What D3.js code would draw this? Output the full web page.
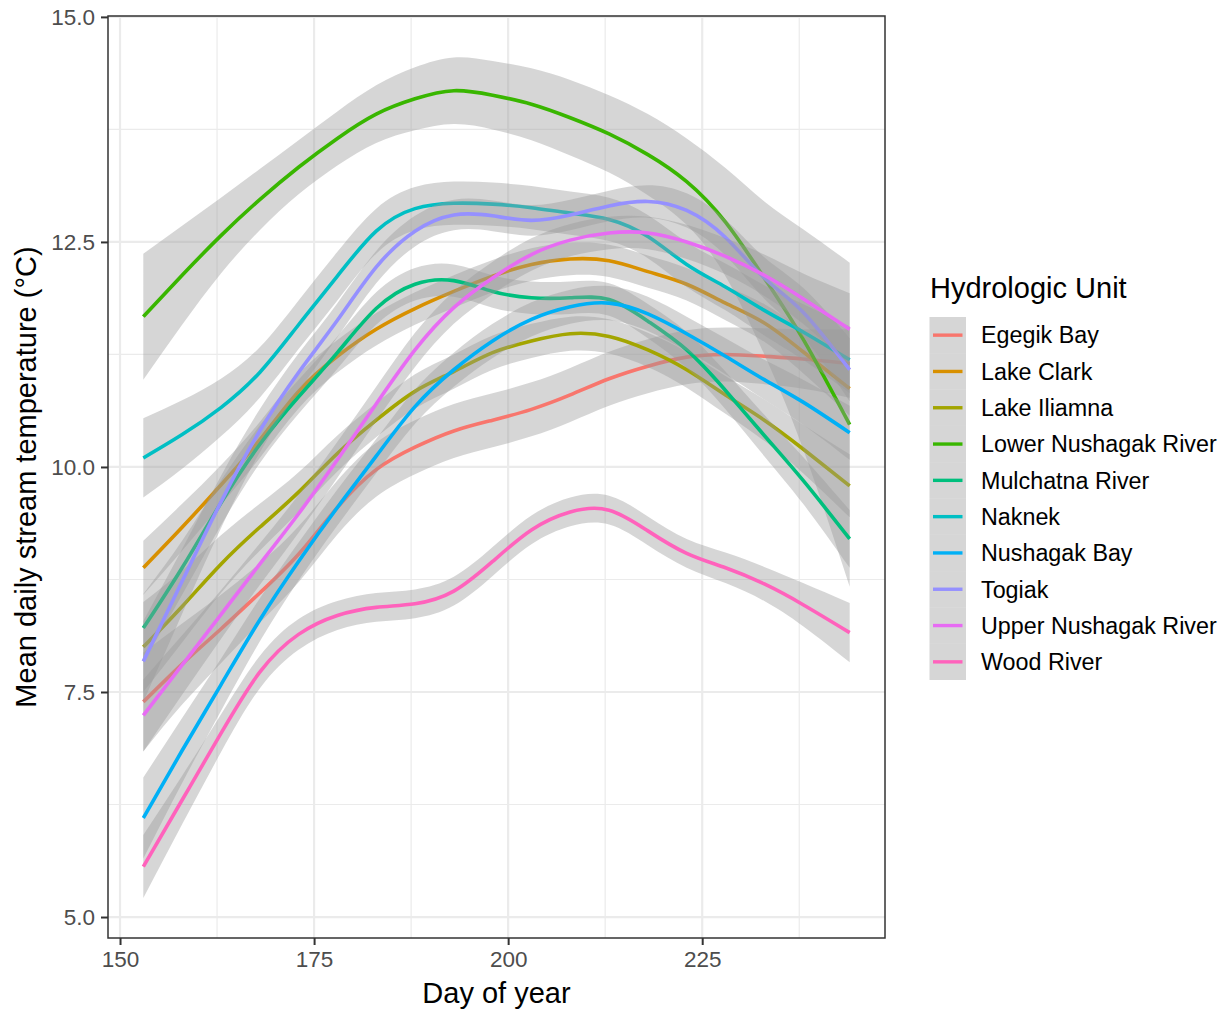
<!DOCTYPE html>
<html>
<head>
<meta charset="utf-8">
<script src="https://cdn.jsdelivr.net/npm/d3@7"></script>
<style>
  html, body { margin: 0; padding: 0; background: #ffffff; }
  svg { display: block; font-family: "Liberation Sans", Arial, Helvetica, sans-serif; }
</style>
</head>
<body>
<svg id="chart" width="1228" height="1010"></svg>
<script>
// Day of year at which each smoothed curve is sampled
const days = [153, 158, 163, 168, 173, 178, 183, 188, 193, 198, 203, 208, 213, 218, 223, 228, 233, 238, 244];

// Fitted mean daily stream temperature (°C) per hydrologic unit
const egegikBay     = [7.39, 7.81, 8.20, 8.60, 9.03, 9.55, 9.97, 10.22, 10.40, 10.52, 10.64, 10.80, 10.98, 11.12, 11.22, 11.25, 11.23, 11.20, 11.15];
const lakeClark     = [8.88, 9.33, 9.80, 10.30, 10.84, 11.23, 11.53, 11.76, 11.95, 12.12, 12.25, 12.31, 12.29, 12.17, 12.03, 11.82, 11.60, 11.28, 10.87];
const lakeIliamna   = [8.00, 8.45, 8.92, 9.33, 9.72, 10.15, 10.52, 10.84, 11.06, 11.27, 11.40, 11.48, 11.45, 11.30, 11.08, 10.80, 10.52, 10.20, 9.79];
const lowerNushagak = [11.67, 12.13, 12.57, 12.97, 13.33, 13.65, 13.92, 14.09, 14.18, 14.13, 14.03, 13.88, 13.70, 13.47, 13.17, 12.72, 12.10, 11.42, 10.47];
const mulchatna     = [8.21, 8.88, 9.60, 10.25, 10.78, 11.27, 11.76, 12.03, 12.07, 11.95, 11.88, 11.88, 11.86, 11.62, 11.30, 10.85, 10.35, 9.85, 9.20];
const naknek        = [10.10, 10.36, 10.66, 11.05, 11.58, 12.12, 12.62, 12.87, 12.93, 12.92, 12.88, 12.82, 12.75, 12.56, 12.25, 12.00, 11.74, 11.50, 11.19];
const nushagakBay   = [6.10, 6.85, 7.58, 8.30, 8.95, 9.55, 10.12, 10.67, 11.08, 11.40, 11.64, 11.78, 11.82, 11.70, 11.48, 11.23, 10.97, 10.72, 10.38];
const togiak        = [7.84, 8.73, 9.61, 10.40, 11.05, 11.63, 12.22, 12.62, 12.80, 12.79, 12.74, 12.80, 12.90, 12.95, 12.85, 12.55, 12.10, 11.72, 11.08];
const upperNushagak = [7.24, 7.80, 8.36, 8.92, 9.48, 10.08, 10.70, 11.30, 11.77, 12.10, 12.36, 12.52, 12.60, 12.60, 12.50, 12.34, 12.13, 11.87, 11.53];
const woodRiver     = [5.56, 6.30, 7.04, 7.72, 8.14, 8.35, 8.44, 8.48, 8.62, 8.95, 9.30, 9.50, 9.52, 9.29, 9.04, 8.88, 8.70, 8.47, 8.16];

// Half-width of the confidence band around each fit (°C)
const egegikBayCI     = [0.55, 0.45, 0.38, 0.33, 0.31, 0.30, 0.30, 0.30, 0.30, 0.30, 0.30, 0.30, 0.30, 0.30, 0.30, 0.30, 0.31, 0.33, 0.38];
const lakeClarkCI     = [0.30, 0.26, 0.22, 0.20, 0.19, 0.18, 0.18, 0.18, 0.18, 0.18, 0.18, 0.18, 0.18, 0.18, 0.18, 0.19, 0.21, 0.24, 0.30];
const lakeIliamnaCI   = [0.50, 0.40, 0.32, 0.26, 0.22, 0.20, 0.19, 0.19, 0.19, 0.19, 0.19, 0.19, 0.19, 0.19, 0.20, 0.21, 0.23, 0.27, 0.35];
const lowerNushagakCI = [0.70, 0.55, 0.42, 0.34, 0.30, 0.30, 0.32, 0.35, 0.37, 0.38, 0.40, 0.42, 0.43, 0.45, 0.48, 0.60, 0.85, 1.22, 1.80];
const mulchatnaCI     = [0.38, 0.30, 0.25, 0.21, 0.19, 0.18, 0.18, 0.18, 0.18, 0.18, 0.18, 0.18, 0.18, 0.19, 0.20, 0.21, 0.23, 0.26, 0.32];
const naknekCI        = [0.44, 0.38, 0.32, 0.28, 0.27, 0.27, 0.25, 0.24, 0.24, 0.24, 0.24, 0.24, 0.24, 0.24, 0.25, 0.26, 0.28, 0.31, 0.37];
const nushagakBayCI   = [0.45, 0.36, 0.29, 0.24, 0.21, 0.20, 0.19, 0.19, 0.19, 0.19, 0.19, 0.19, 0.19, 0.19, 0.19, 0.20, 0.22, 0.25, 0.30];
const togiakCI        = [0.45, 0.36, 0.29, 0.24, 0.21, 0.19, 0.18, 0.17, 0.17, 0.17, 0.17, 0.17, 0.17, 0.18, 0.19, 0.20, 0.23, 0.27, 0.35];
const upperNushagakCI = [0.40, 0.33, 0.27, 0.23, 0.21, 0.20, 0.19, 0.19, 0.18, 0.18, 0.18, 0.18, 0.18, 0.18, 0.19, 0.20, 0.23, 0.28, 0.40];
const woodRiverCI     = [0.35, 0.27, 0.21, 0.18, 0.17, 0.16, 0.16, 0.16, 0.16, 0.16, 0.16, 0.16, 0.16, 0.16, 0.16, 0.17, 0.19, 0.24, 0.33];

const units = ["Egegik Bay", "Lake Clark", "Lake Iliamna", "Lower Nushagak River", "Mulchatna River",
               "Naknek", "Nushagak Bay", "Togiak", "Upper Nushagak River", "Wood River"];
const unitColors = ["#F8766D", "#D89000", "#A3A500", "#39B600", "#00BF7D",
                    "#00BFC4", "#00B0F6", "#9590FF", "#E76BF3", "#FF62BC"];
const unitMeans = [egegikBay, lakeClark, lakeIliamna, lowerNushagak, mulchatna,
                   naknek, nushagakBay, togiak, upperNushagak, woodRiver];
const unitCI = [egegikBayCI, lakeClarkCI, lakeIliamnaCI, lowerNushagakCI, mulchatnaCI,
                naknekCI, nushagakBayCI, togiakCI, upperNushagakCI, woodRiverCI];

const xTicks = [150, 175, 200, 225];
const xMinor = [162.5, 187.5, 212.5, 237.5];
const yTicks = [5.0, 7.5, 10.0, 12.5, 15.0];
const yMinor = [6.25, 8.75, 11.25, 13.75];

const xTitle = "Day of year";
const yTitle = "Mean daily stream temperature (°C)";
const legendTitle = "Hydrologic Unit";

// ---- layout ----
const panel = { left: 108, right: 885, top: 16, bottom: 938 };
const svg = d3.select("#chart");
svg.append("rect").attr("width", 1228).attr("height", 1010).attr("fill", "#ffffff");

const x = d3.scaleLinear().domain([148.45, 248.55]).range([panel.left, panel.right]);
const y = d3.scaleLinear().domain([4.767, 15.01]).range([panel.bottom, panel.top]);

svg.append("defs").append("clipPath").attr("id", "panel-clip")
  .append("rect")
  .attr("x", panel.left).attr("y", panel.top)
  .attr("width", panel.right - panel.left).attr("height", panel.bottom - panel.top);

// ---- grid ----
const grid = svg.append("g");
grid.selectAll("line.ymin").data(yMinor).join("line")
  .attr("x1", panel.left).attr("x2", panel.right)
  .attr("y1", d => y(d)).attr("y2", d => y(d))
  .attr("stroke", "#EBEBEB").attr("stroke-width", 1.2);
grid.selectAll("line.xmin").data(xMinor).join("line")
  .attr("y1", panel.top).attr("y2", panel.bottom)
  .attr("x1", d => x(d)).attr("x2", d => x(d))
  .attr("stroke", "#EBEBEB").attr("stroke-width", 1.2);
grid.selectAll("line.ymaj").data(yTicks).join("line")
  .attr("x1", panel.left).attr("x2", panel.right)
  .attr("y1", d => y(d)).attr("y2", d => y(d))
  .attr("stroke", "#EBEBEB").attr("stroke-width", 2.2);
grid.selectAll("line.xmaj").data(xTicks).join("line")
  .attr("y1", panel.top).attr("y2", panel.bottom)
  .attr("x1", d => x(d)).attr("x2", d => x(d))
  .attr("stroke", "#EBEBEB").attr("stroke-width", 2.2);

// ---- smoothed fits with confidence ribbons ----
const curve = d3.curveNatural;
const area = d3.area()
  .x(d => x(d.day))
  .y0(d => y(d.mean - d.ci))
  .y1(d => y(d.mean + d.ci))
  .curve(curve);
const line = d3.line()
  .x(d => x(d.day))
  .y(d => y(d.mean))
  .curve(curve);

// each unit: ribbon first, then its line, so later ribbons veil earlier lines
const fits = svg.append("g").attr("clip-path", "url(#panel-clip)");
units.forEach((name, i) => {
  const pts = days.map((day, k) => ({ day, mean: unitMeans[i][k], ci: unitCI[i][k] }));
  fits.append("path").attr("d", area(pts))
    .attr("fill", "#999999").attr("fill-opacity", 0.4).attr("stroke", "none");
  fits.append("path").attr("d", line(pts))
    .attr("fill", "none").attr("stroke", unitColors[i]).attr("stroke-width", 3.6);
});

// ---- panel border ----
svg.append("rect")
  .attr("x", panel.left).attr("y", panel.top)
  .attr("width", panel.right - panel.left).attr("height", panel.bottom - panel.top)
  .attr("fill", "none").attr("stroke", "#333333").attr("stroke-width", 1.5);

// ---- axes ----
const xAxis = d3.axisBottom(x).tickValues(xTicks).tickFormat(d3.format("d"))
  .tickSize(7).tickPadding(6);
const yAxis = d3.axisLeft(y).tickValues(yTicks).tickFormat(d3.format(".1f"))
  .tickSize(7).tickPadding(6);

const gx = svg.append("g").attr("transform", `translate(0,${panel.bottom})`).call(xAxis);
const gy = svg.append("g").attr("transform", `translate(${panel.left},0)`).call(yAxis);
[gx, gy].forEach(g => {
  g.select(".domain").remove();
  g.selectAll(".tick line").attr("stroke", "#333333").attr("stroke-width", 2);
  g.selectAll(".tick text").attr("fill", "#4D4D4D")
    .style("font-size", "22.5px").style("font-family", "'Liberation Sans', Arial, sans-serif");
});
gx.selectAll(".tick text").attr("dy", null).attr("y", 29).attr("dominant-baseline", "auto");

// ---- axis titles ----
svg.append("text")
  .attr("x", (panel.left + panel.right) / 2).attr("y", 1003)
  .attr("text-anchor", "middle").attr("fill", "#000000")
  .style("font-size", "29px").text(xTitle);

svg.append("text")
  .attr("transform", `translate(36,${(panel.top + panel.bottom) / 2}) rotate(-90)`)
  .attr("text-anchor", "middle").attr("fill", "#000000")
  .style("font-size", "29px").text(yTitle);

// ---- legend ----
const legend = svg.append("g");
legend.append("text")
  .attr("x", 930).attr("y", 298)
  .attr("fill", "#000000").style("font-size", "29px").text(legendTitle);

const keyTop = 317, keyH = 36.3, keyLeft = 929.5, keyW = 36.5;
const keys = legend.selectAll("g.key").data(units).join("g")
  .attr("transform", (d, i) => `translate(0,${keyTop + i * keyH})`);
keys.append("rect")
  .attr("x", keyLeft).attr("y", 0).attr("width", keyW).attr("height", keyH)
  .attr("fill", "#999999").attr("fill-opacity", 0.4);
keys.append("line")
  .attr("x1", keyLeft + 3.5).attr("x2", keyLeft + keyW - 3.5)
  .attr("y1", keyH / 2).attr("y2", keyH / 2)
  .attr("stroke", (d, i) => unitColors[i]).attr("stroke-width", 3.4);
keys.append("text")
  .attr("x", 981).attr("y", keyH / 2 + 8.3)
  .attr("fill", "#000000").style("font-size", "23.3px")
  .text(d => d);
</script>
</body>
</html>
